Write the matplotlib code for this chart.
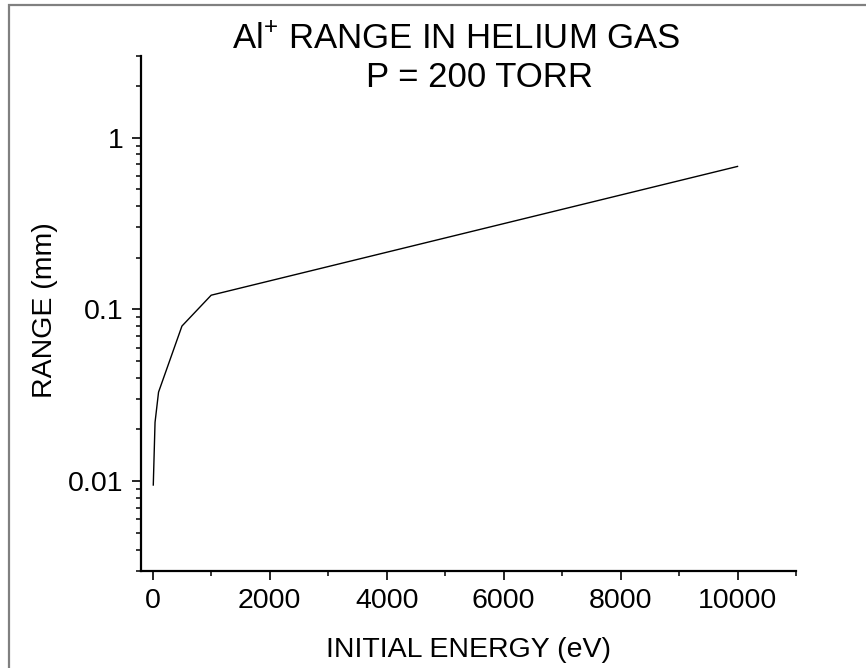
import matplotlib
matplotlib.use("Agg")
import matplotlib.pyplot as plt
from matplotlib.ticker import LogLocator, FixedLocator, NullFormatter, FuncFormatter, MultipleLocator
from matplotlib.patches import Rectangle

# Data
energy_ev = [10, 40, 100, 500, 1000, 10000]
range_mm = [0.0095, 0.022, 0.033, 0.080, 0.121, 0.68]

title_line1 = "Al$^{+}$ RANGE IN HELIUM GAS"
title_line2 = "P = 200 TORR"
xlabel = "INITIAL ENERGY (eV)"
ylabel = "RANGE (mm)"
ytick_values = [0.01, 0.1, 1]
ytick_labels = ["0.01", "0.1", "1"]

plt.rcParams['font.family'] = ['Liberation Sans', 'DejaVu Sans']
plt.rcParams['mathtext.fontset'] = 'custom'
plt.rcParams['mathtext.rm'] = 'Liberation Sans'
plt.rcParams['mathtext.it'] = 'Liberation Sans'

W, H = 866, 668
fig = plt.figure(figsize=(W / 100, H / 100), dpi=100)

# Axes placement (pixels -> figure fraction)
left, right, top, bottom = 141, 796, 55.7, 571
ax = fig.add_axes([left / W, 1 - bottom / H, (right - left) / W, (bottom - top) / H])

ax.plot(energy_ev, range_mm, color='black', linewidth=1.0)

ax.set_yscale('log')
ax.set_xlim(-200, 11000)
ax.set_ylim(0.003, 3)

ax.spines['top'].set_visible(False)
ax.spines['right'].set_visible(False)
for s in ('left', 'bottom'):
    ax.spines[s].set_linewidth(1.6)

ax.xaxis.set_major_locator(FixedLocator([0, 2000, 4000, 6000, 8000, 10000]))
ax.xaxis.set_minor_locator(MultipleLocator(1000))
ax.yaxis.set_major_locator(FixedLocator(ytick_values))
ax.yaxis.set_major_formatter(FuncFormatter(lambda v, p: dict(zip(ytick_values, ytick_labels)).get(v, "")))
ax.yaxis.set_minor_locator(LogLocator(base=10, subs=range(2, 10), numticks=20))
ax.yaxis.set_minor_formatter(NullFormatter())

ax.tick_params(which='major', direction='out', length=6.5, width=1.2, labelsize=20.5, pad=6)
ax.tick_params(which='minor', direction='out', length=3.6, width=1.1)

# Titles
fig.text(231.7 / W, 1 - 49 / H, title_line1, fontsize=25, ha='left', va='baseline')
fig.text(480 / W, 1 - 87 / H, title_line2, fontsize=25, ha='center', va='baseline')

# Axis labels
fig.text(468.5 / W, 1 - 657 / H, xlabel, fontsize=20.5, ha='center', va='baseline')
fig.text(52 / W, 1 - 310 / H, ylabel, fontsize=20.5, ha='center', va='baseline', rotation=90,
         rotation_mode='anchor')

# Gray figure frame (left and top visible)
fig.patches.append(Rectangle((8.5 / W, -0.1), 1.2, 1.1 - 5 / H, transform=fig.transFigure,
                             fill=False, edgecolor='#808080', linewidth=1.6))

fig.savefig('out.png', dpi=100)
